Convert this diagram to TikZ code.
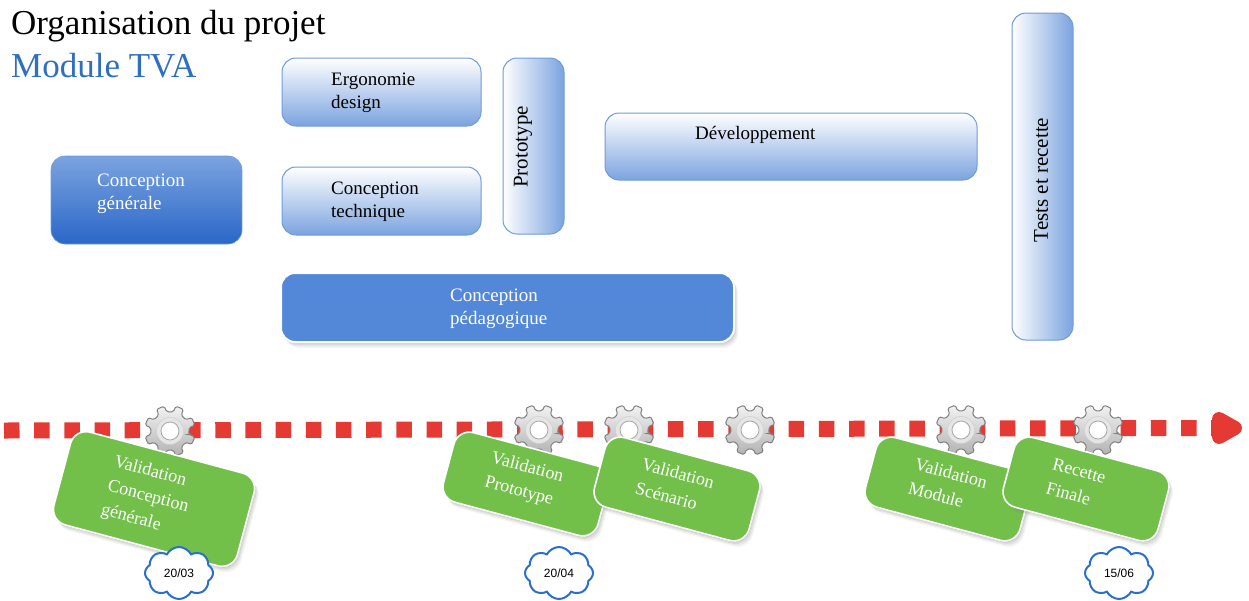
\documentclass[tikz,border=0pt]{standalone}
\usepackage{fontspec}
\setmainfont{Liberation Serif}
\newfontfamily\datefont{Liberation Sans}
\usetikzlibrary{shadows,shapes.symbols}
\definecolor{bluelight}{HTML}{7BA3DF}
\definecolor{bluedark}{HTML}{2A67C8}
\definecolor{blueline}{HTML}{6F9BDC}
\definecolor{bluefill}{HTML}{5388D8}
\definecolor{bluetitle}{HTML}{2F6FC0}
\definecolor{greencard}{HTML}{72C04A}
\definecolor{redline}{HTML}{E53A33}
\definecolor{cloudline}{HTML}{2A6FC9}
\tikzset{
  softshadow/.style={
    drop shadow={opacity=.08,shadow xshift=4pt,shadow yshift=-6pt},
    drop shadow={opacity=.10,shadow xshift=3pt,shadow yshift=-4.5pt},
    drop shadow={opacity=.14,shadow xshift=2pt,shadow yshift=-3pt},
    drop shadow={opacity=.18,shadow xshift=1pt,shadow yshift=-1.5pt}},
  boxbase/.style={rounded corners=14pt,minimum width=#1,inner sep=0pt},
  lightbox/.style={boxbase=#1,draw=blueline,line width=1pt,top color=white,bottom color=bluelight},
  sidebox/.style={boxbase=#1,draw=blueline,line width=1pt,left color=white,right color=bluelight},
  darkbox/.style={boxbase=#1,draw=blueline,line width=.6pt,top color=bluelight,bottom color=bluedark},
  flatbox/.style={boxbase=#1,softshadow,draw=white,line width=2pt,fill=bluefill},
  card/.style={boxbase=#1,softshadow,draw=white,line width=1.6pt,fill=greencard,rotate=-15,rounded corners=16pt},
  boxtext/.style={align=left,inner sep=0pt,font=\fontsize{19}{23}\selectfont},
  sidetext/.style={inner sep=0pt,rotate=90,font=\fontsize{21}{23}\selectfont},
  cardtext/.style={align=left,inner sep=0pt,text=white,rotate=-15,font=\fontsize{18}{25}\selectfont},
  datecloud/.style={cloud,cloud puffs=8,cloud puff arc=125,aspect=1.3,draw=cloudline,line width=2pt,
    fill=white,minimum width=68pt,minimum height=52pt,inner sep=0pt,
    font=\fontsize{12}{14}\datefont},
  gear/.pic={
    \draw[draw=gray,line width=1pt,rounded corners=1.5pt,top color=gray!10,bottom color=gray!60]
      (10:19) \foreach \a in {22.5,67.5,...,337.5} {
        -- (\a-13:19.5) -- (\a-9:25.5) -- (\a+9:25.5) -- (\a+13:19.5) } -- cycle ;
    \draw[draw=gray!40,fill=gray!20] (0,0) circle (13.5) ;
    \draw[draw=gray!70,fill=white,line width=.8pt] (0,0) circle (9) ;
  }
}
\begin{document}
\begin{tikzpicture}[x=1pt,y=-1pt]
  \useasboundingbox (0,0) rectangle (1249,600) ;
  \node[anchor=west,inner sep=0pt,font=\fontsize{35}{35}\selectfont] (title) at (11,26) {Organisation du projet} ;
  \node[anchor=west,inner sep=0pt,text=bluetitle,font=\fontsize{35}{35}\selectfont] (module) at (11,66) {Module TVA} ;

  \node[darkbox=191pt,minimum height=88pt] (generale) at (146.5,200) {} ;
  \node[lightbox=199pt,minimum height=68pt] (ergo) at (381.5,92) {} ;
  \node[lightbox=199pt,minimum height=68pt] (technique) at (381.5,201) {} ;
  \node[sidebox=61pt,minimum height=176pt] (proto) at (533.5,146) {} ;
  \node[lightbox=372pt,minimum height=67pt] (dev) at (791,146.5) {} ;
  \node[sidebox=61pt,minimum height=327pt] (tests) at (1042.5,176.5) {} ;
  \node[flatbox=453pt,minimum height=69pt] (pedago) at (507.5,307.5) {} ;

  \node[boxtext,anchor=west,text=white] (generaletxt) at (97,194) {Conception\\générale} ;
  \node[boxtext,anchor=west] (ergotxt) at (331,93) {Ergonomie\\design} ;
  \node[boxtext,anchor=west] (techniquetxt) at (331,202) {Conception\\technique} ;
  \node[sidetext] (prototxt) at (523,147) {Prototype} ;
  \node[boxtext,anchor=west] (devtxt) at (695,135) {Développement} ;
  \node[sidetext] (teststxt) at (1041,180) {Tests et recette} ;
  \node[boxtext,anchor=west,text=white] (pedagotxt) at (450,309) {Conception\\pédagogique} ;

  \coordinate (linestart) at (4,430.5) ;
  \coordinate (lineend) at (1212,428) ;
  \draw[redline,line width=16pt,dash pattern=on 15.5pt off 14.68pt] (linestart)--(lineend) ;
  \filldraw[redline,line join=round,line width=14pt] (1219,419)--(1235,428)--(1219,437)--cycle ;

  \pic at (170,431) {gear} ;
  \pic at (539,430) {gear} ;
  \pic at (629,430) {gear} ;
  \pic at (750,430) {gear} ;
  \pic at (961,430) {gear} ;
  \pic at (1098,430) {gear} ;

  \node[card=190pt,minimum height=96pt] (cardgen) at (154,499) {} ;
  \node[cardtext] (cardgentxt) at (148,497) {Validation\\Conception\\générale} ;
  \node[card=160pt,minimum height=72pt] (cardproto) at (526,484) {} ;
  \node[cardtext] (cardprototxt) at (524,480) {Validation\\Prototype} ;
  \node[card=160pt,minimum height=72pt] (cardscen) at (677,489) {} ;
  \node[cardtext] (cardscentxt) at (675,485) {Validation\\Scénario} ;
  \node[card=160pt,minimum height=72pt] (cardmod) at (948,489) {} ;
  \node[cardtext] (cardmodtxt) at (948,485) {Validation\\Module} ;
  \node[card=160pt,minimum height=72pt] (cardfin) at (1086,489) {} ;
  \node[cardtext] (cardfintxt) at (1076,483) {Recette\\Finale} ;

  \node[datecloud] (datea) at (179,573) {20/03} ;
  \node[datecloud] (dateb) at (559,573) {20/04} ;
  \node[datecloud] (datec) at (1119,573) {15/06} ;
\end{tikzpicture}
\end{document}
